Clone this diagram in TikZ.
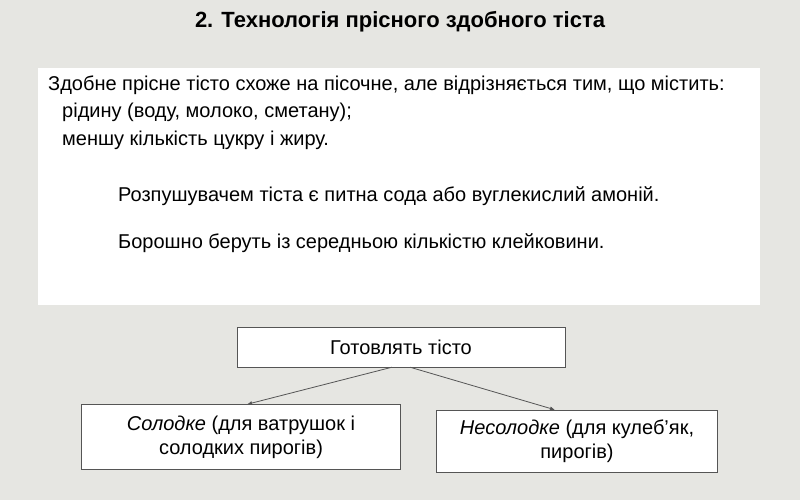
\documentclass[tikz,border=0pt]{standalone}
\usepackage{fontspec}
\setmainfont{Liberation Sans}
\usetikzlibrary{arrows.meta}
\definecolor{bggrey}{HTML}{E6E6E2}
\definecolor{boxline}{HTML}{555555}
\begin{document}
\begin{tikzpicture}[x=1pt, y=-1pt,
    box/.style={draw=boxline, fill=white, minimum height=40pt, inner sep=0pt, align=center, font=\fontsize{20}{24}\selectfont},
    txt/.style={anchor=west, inner sep=0pt, font=\fontsize{20}{24}\selectfont}]
  \fill[bggrey] (0,0) rectangle (800,500);
  \node[font=\bfseries\fontsize{22}{26}\selectfont] (title) at (400,22) {2. Технологія прісного здобного тіста};
  \fill[white] (38,68) rectangle (760,305);
  \node[txt] (l1) at (48,85) {Здобне прісне тісто схоже на пісочне, але відрізняється тим, що містить:};
  \node[txt] (l2) at (62,112) {рідину (воду, молоко, сметану);};
  \node[txt] (l3) at (62,140) {меншу кількість цукру і жиру.};
  \node[txt] (l4) at (118,196) {Розпушувачем тіста є питна сода або вуглекислий амоній.};
  \node[txt] (l5) at (118,243) {Борошно беруть із середньою кількістю клейковини.};
  \begin{scope}[every node/.style={box}]
    \node[minimum width=328pt] (make) at (401,347) {Готовлять тісто};
    \node[minimum width=319pt, minimum height=65pt] (sweet) at (241,437) {\textit{Солодке} (для ватрушок і\\солодких пирогів)};
    \node[minimum width=281pt, minimum height=62pt] (plain) at (577,441) {\textit{Несолодке} (для кулеб’як,\\пирогів)};
  \end{scope}
  \begin{scope}[-{Latex[length=5pt,width=4pt]}, draw=boxline, thick]
    \draw ([xshift=-9pt]make.south) to ([xshift=6pt]sweet.north);
    \draw ([xshift=9pt]make.south) to ([xshift=-22pt]plain.north);
  \end{scope}
\end{tikzpicture}
\end{document}
